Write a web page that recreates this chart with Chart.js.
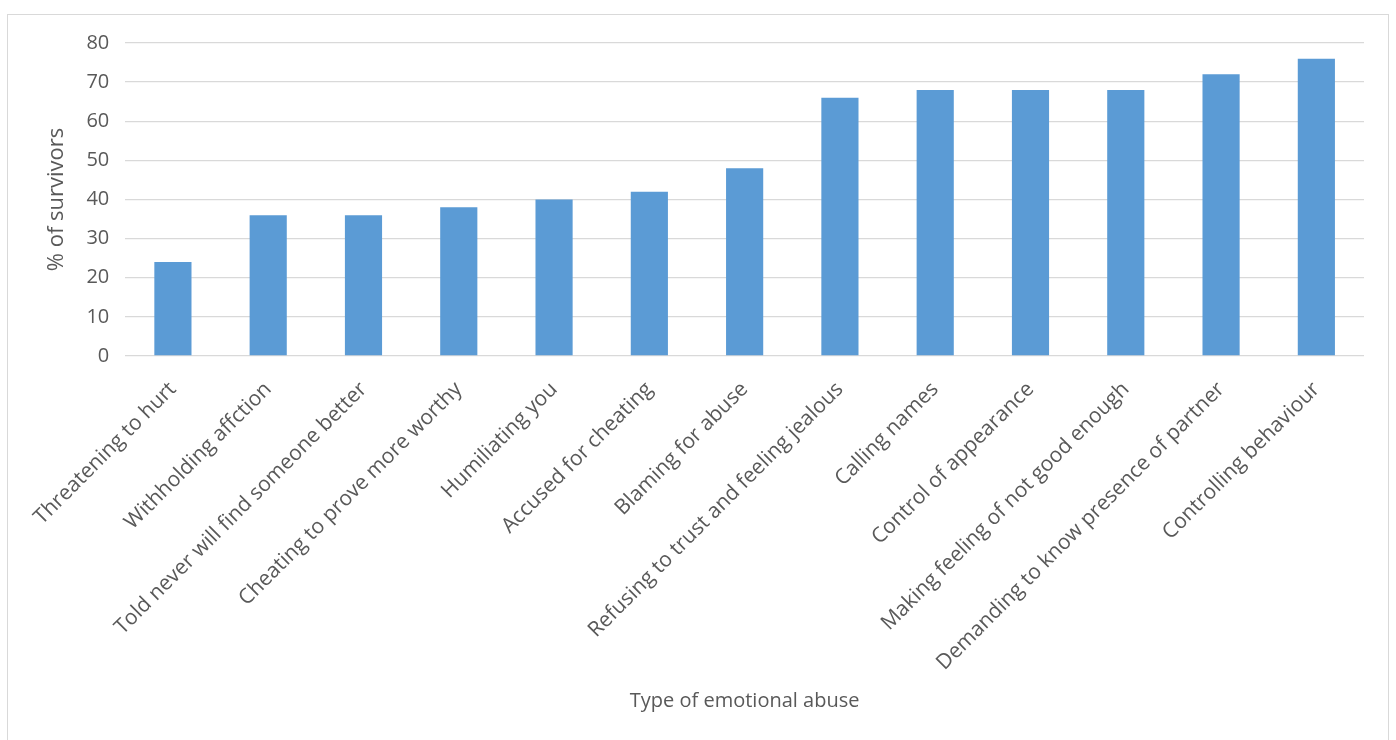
<!DOCTYPE html>
<html>
<head>
<meta charset="utf-8">
<script src="https://cdn.jsdelivr.net/npm/chart.js@4.4.1/dist/chart.umd.min.js"></script>
<style>
  html, body { margin: 0; padding: 0; background: #fff; }
  #box { position: absolute; left: 7px; top: 14px; width: 1382px; height: 740px; border: 1px solid #d9d9d9; box-sizing: border-box; }
  #box canvas { display: block; }
</style>
</head>
<body>
<div id="box"><canvas id="abuseChart" width="1382" height="740"></canvas></div>
<script>
// survey data
var categories = [
  'Threatening to hurt', 'Withholding affction', 'Told never will find someone better',
  'Cheating to prove more worthy', 'Humiliating you', 'Accused for cheating',
  'Blaming for abuse', 'Refusing to trust and feeling jealous', 'Calling names',
  'Control of appearance', 'Making feeling of not good enough',
  'Demanding to know presence of partner', 'Controlling behaviour'
];
var survivorPct = [24, 36, 36, 38, 40, 42, 48, 66, 68, 68, 68, 72, 76];
var yTicks = [0, 10, 20, 30, 40, 50, 60, 70, 80];

var fontFam = '"Open Sans", sans-serif';
var txtColor = '#595959';

var ctx = document.getElementById('abuseChart').getContext('2d');
var chart = new Chart(ctx, {
  type: 'bar',
  data: {
    labels: categories,
    datasets: [{
      label: '% of survivors',
      data: survivorPct,
      backgroundColor: '#5b9bd5',
      borderWidth: 0,
      categoryPercentage: 1,
      barPercentage: 0.39
    }]
  },
  options: {
    responsive: false,
    animation: false,
    layout: { padding: { top: 11, right: 26, bottom: 38, left: 32 } },
    plugins: { legend: { display: false }, tooltip: { enabled: false } },
    scales: {
      x: {
        // long rotated labels: chart.js caps the axis at half the height, so set it here
        afterFit: function (scale) { scale.height = 361; },
        grid: { display: false },
        border: { display: false },
        ticks: {
          color: txtColor, font: { family: fontFam, size: 21 },
          maxRotation: 45, minRotation: 45, autoSkip: false, padding: 13
        },
        title: {
          display: true, text: 'Type of emotional abuse', color: txtColor,
          font: { family: fontFam, size: 20 }, padding: { top: 10 }
        }
      },
      y: {
        min: 0, max: 80,
        afterBuildTicks: function (axis) { axis.ticks = yTicks.map(function (v) { return { value: v }; }); },
        grid: { color: '#d9d9d9', lineWidth: 1.3, drawTicks: false },
        border: { display: false },
        ticks: { color: txtColor, font: { family: fontFam, size: 20 }, padding: 16 },
        title: {
          display: true, text: '% of survivors', color: txtColor,
          font: { family: fontFam, size: 22 }, padding: { bottom: 0 }
        }
      }
    }
  }
});
</script>
</body>
</html>
